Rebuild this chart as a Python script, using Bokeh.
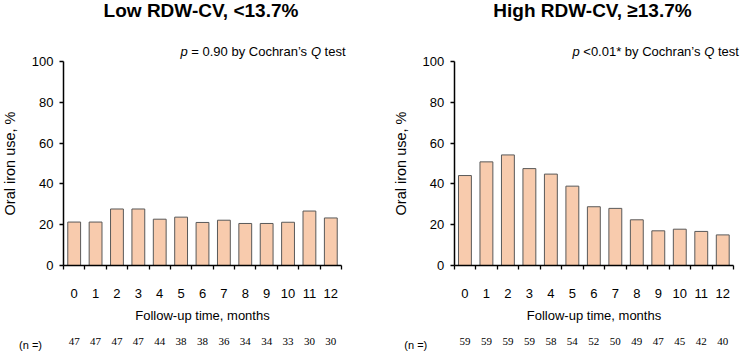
from bokeh.plotting import figure
from bokeh.layouts import row
from bokeh.models import Range1d, FixedTicker, Label, LabelSet, ColumnDataSource
from bokeh.embed import file_html
from bokeh.resources import INLINE

# Follow-up months and the share of patients on oral iron (%) at each visit
months = list(range(13))
low_pct = [21.3, 21.3, 27.7, 27.7, 22.7, 23.7, 21.1, 22.2, 20.6, 20.6, 21.2, 26.7, 23.3]
low_n = [47, 47, 47, 47, 44, 38, 38, 36, 34, 34, 33, 30, 30]
high_pct = [44.1, 50.8, 54.2, 47.5, 44.8, 38.9, 28.8, 28.0, 22.4, 17.0, 17.8, 16.7, 15.0]
high_n = [59, 59, 59, 59, 58, 54, 52, 50, 49, 47, 45, 42, 40]
y_ticks = [0, 20, 40, 60, 80, 100]

FONT = "Liberation Sans"
BAR_FILL = "#F8CBAD"
BAR_LINE = "#595959"
W, H = 372, 351
AXIS_TOP, AXIS_BOTTOM = 61, 265          # canvas rows of y = 100 and y = 0


def panel(title, pct, n, p_value, axis_left, axis_right, spots):
    # the plotting frame fills the whole canvas; axes sit at fixed data locations
    sx = (axis_right - axis_left) / 13.0
    sy = (AXIS_BOTTOM - AXIS_TOP) / 100.0
    x0 = -0.5 - axis_left / sx
    x1 = 12.5 + (W - axis_right) / sx
    y0 = -(H - AXIS_BOTTOM) / sy
    y1 = 100 + AXIS_TOP / sy

    def cx(px):
        return x0 + px / sx

    def cy(py):
        return y0 + (H - py) / sy

    p = figure(width=W, height=H, x_range=Range1d(x0, x1), y_range=Range1d(y0, y1),
               min_border_left=0, min_border_right=0, min_border_top=0, min_border_bottom=0,
               output_backend="svg", toolbar_location=None, title=None)
    p.outline_line_color = None
    p.xgrid.visible = False
    p.ygrid.visible = False
    p.background_fill_color = "white"
    p.border_fill_color = "white"

    src = ColumnDataSource(dict(month=months, pct=pct, n=[str(v) for v in n]))
    p.vbar(x="month", top="pct", width=0.6, source=src,
           fill_color=BAR_FILL, line_color=BAR_LINE, line_width=1)

    # x axis: tick marks between months, labels under each month
    xa = p.xaxis[0]
    xa.fixed_location = 0
    xa.bounds = (-0.5, 12.5)
    xa.ticker = FixedTicker(ticks=months, minor_ticks=[m - 0.5 for m in months] + [12.5])
    xa.major_tick_line_color = None
    xa.major_tick_out = 0
    xa.major_tick_in = 0
    xa.minor_tick_out = 4
    xa.minor_tick_in = 0
    xa.minor_tick_line_color = "black"
    xa.minor_tick_line_width = 1.3
    xa.axis_line_color = "black"
    xa.axis_line_width = 1.5
    xa.major_label_standoff = 19
    xa.major_label_text_font = FONT
    xa.major_label_text_font_size = "13px"
    xa.major_label_text_color = "black"
    xa.axis_label = "Follow-up time, months"
    xa.axis_label_text_font = FONT
    xa.axis_label_text_font_size = "13px"
    xa.axis_label_text_font_style = "normal"
    xa.axis_label_text_color = "black"
    xa.axis_label_standoff = 7

    ya = p.yaxis[0]
    ya.fixed_location = -0.5
    ya.bounds = (0, 100)
    ya.ticker = FixedTicker(ticks=y_ticks)
    ya.minor_tick_line_color = None
    ya.major_tick_out = 4
    ya.major_tick_in = 0
    ya.major_tick_line_color = "black"
    ya.major_tick_line_width = 1.3
    ya.axis_line_color = "black"
    ya.axis_line_width = 1.5
    ya.major_label_standoff = 6
    ya.major_label_text_font = FONT
    ya.major_label_text_font_size = "13px"
    ya.major_label_text_color = "black"
    ya.axis_label = "Oral iron use, %"
    ya.axis_label_text_font = FONT
    ya.axis_label_text_font_size = "14.5px"
    ya.axis_label_text_font_style = "normal"
    ya.axis_label_text_color = "black"
    ya.axis_label_standoff = 11

    # panel heading
    p.add_layout(Label(x=cx(spots["title"]), y=cy(10), text=title, text_align="center",
                       text_baseline="alphabetic", text_font=FONT, text_font_size="19px",
                       text_font_style="bold", text_color="black"))

    # test result line, with italic statistic symbols
    pieces = [("p", "italic", spots["p"]), (p_value, "normal", spots["val"]),
              ("Q", "italic", spots["q"]), ("test", "normal", spots["test"])]
    for txt, style, px in pieces:
        p.add_layout(Label(x=cx(px), y=cy(50.5), text=txt, text_align="left",
                           text_baseline="alphabetic", text_font=FONT, text_font_size="13px",
                           text_font_style=style, text_color="black"))

    # patients at risk row
    p.add_layout(LabelSet(x="month", y=cy(344), text="n", source=src, text_align="center",
                          text_baseline="alphabetic", text_font=FONT, text_font_size="11px",
                          text_color="black"))
    p.add_layout(Label(x=cx(spots["n"]), y=cy(344), text="(n =)", text_align="center",
                       text_baseline="alphabetic", text_font=FONT, text_font_size="11px",
                       text_color="black"))
    return p


left = panel("Low RDW-CV, <13.7%", low_pct, low_n, "= 0.90 by Cochran’s", 63, 341,
             dict(title=200.5, p=180, val=190.8, q=310.4, test=324.1, n=30))
right = panel("High RDW-CV, ≥13.7%", high_pct, high_n, "<0.01* by Cochran’s", 81.7, 361,
              dict(title=220, p=200, val=210.8, q=331.8, test=345.5, n=43.3))

layout = row(left, right)
open("out.html", "w").write(file_html(layout, INLINE))
